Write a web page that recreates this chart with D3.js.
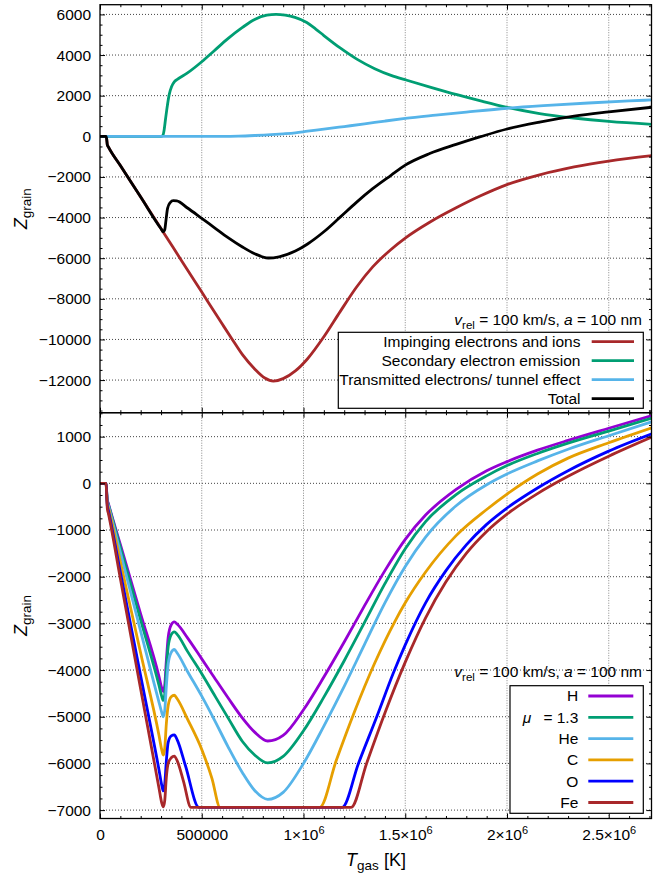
<!DOCTYPE html>
<html>
<head>
<meta charset="utf-8">
<script src="https://cdn.jsdelivr.net/npm/d3@7"></script>
<style>
  body { margin: 0; background: #fff; }
  svg { display: block; font-family: "Liberation Sans", Arial, Helvetica, sans-serif; }
</style>
</head>
<body>
<svg id="chart" width="664" height="873"></svg>
<script>
// ---- Data: [T_gas (K), Z_grain] ----
// Upper panel: charge contributions for v_rel = 100 km/s, a = 100 nm
const impinging = [[0,0],[30000,0],[33000,-150],[36000,-420],[41000,-520],[100000,-1440],[200000,-2990],[311000,-4720],[400000,-6110],[500000,-7670],[600000,-9230],[650000,-10000],[700000,-10750],[760000,-11450],[810000,-11900],[852000,-12050],[900000,-11930],[960000,-11550],[1020000,-10950],[1100000,-9870],[1180000,-8630],[1260000,-7430],[1340000,-6430],[1430000,-5570],[1500000,-5010],[1620000,-4230],[1750000,-3520],[1870000,-2930],[2000000,-2380],[2160000,-1900],[2330000,-1510],[2500000,-1220],[2712000,-950]];
const secondary = [[0,0],[300000,0],[308000,30],[315000,300],[322000,850],[328000,1300],[340000,2050],[352000,2450],[365000,2680],[380000,2800],[430000,3120],[500000,3670],[560000,4200],[630000,4820],[700000,5360],[760000,5750],[820000,5960],[865000,6000],[910000,5960],[958000,5850],[1016000,5600],[1060000,5280],[1100000,4960],[1180000,4350],[1262000,3800],[1350000,3330],[1430000,3000],[1508000,2760],[1630000,2400],[1754000,2050],[1880000,1720],[2000000,1430],[2160000,1120],[2327000,900],[2500000,730],[2712000,590]];
const transmitted = [[0,0],[600000,0],[680000,10],[760000,40],[840000,80],[900000,120],[960000,170],[1020000,250],[1100000,350],[1200000,480],[1300000,610],[1400000,750],[1500000,880],[1650000,1040],[1800000,1190],[2000000,1380],[2200000,1520],[2400000,1640],[2600000,1740],[2712000,1790]];
const total = [[0,0],[30000,0],[33000,-150],[36000,-420],[41000,-520],[100000,-1440],[200000,-2990],[300000,-4550],[311000,-4700],[318000,-4600],[324000,-4150],[332000,-3550],[345000,-3260],[360000,-3170],[377000,-3180],[430000,-3530],[500000,-4040],[560000,-4480],[631000,-5000],[700000,-5450],[760000,-5780],[827000,-5990],[880000,-5930],[960000,-5650],[1020000,-5300],[1100000,-4700],[1180000,-3980],[1260000,-3250],[1340000,-2580],[1430000,-1920],[1500000,-1420],[1620000,-850],[1750000,-400],[1870000,-20],[2000000,360],[2160000,700],[2330000,990],[2500000,1200],[2712000,1430]];

// Lower panel: total charge for different gas compositions
const gasH = [[0,0],[30000,0],[33000,-200],[36000,-350],[41000,-430],[100000,-1310],[200000,-2800],[290000,-4140],[303000,-4380],[311000,-4460],[318000,-4330],[326000,-3800],[335000,-3300],[350000,-3030],[365000,-2970],[380000,-3020],[430000,-3310],[500000,-3760],[560000,-4150],[630000,-4600],[700000,-5030],[760000,-5330],[824000,-5520],[900000,-5400],[1000000,-4850],[1100000,-4150],[1200000,-3400],[1300000,-2620],[1400000,-1870],[1500000,-1200],[1600000,-680],[1750000,-130],[1900000,270],[2000000,465],[2150000,710],[2300000,920],[2500000,1180],[2712000,1450]];
const gasMu13 = [[0,0],[30000,0],[33000,-200],[36000,-370],[41000,-450],[100000,-1370],[200000,-2930],[290000,-4330],[303000,-4560],[311000,-4650],[318000,-4520],[326000,-4000],[335000,-3500],[350000,-3240],[365000,-3180],[380000,-3240],[430000,-3600],[500000,-4080],[560000,-4520],[630000,-5030],[700000,-5530],[760000,-5820],[824000,-5990],[900000,-5850],[1000000,-5300],[1100000,-4580],[1200000,-3800],[1300000,-2980],[1400000,-2150],[1500000,-1400],[1600000,-820],[1750000,-240],[1900000,160],[2000000,380],[2150000,640],[2300000,860],[2500000,1120],[2712000,1400]];
const gasHe = [[0,0],[30000,0],[33000,-220],[36000,-400],[41000,-480],[100000,-1480],[200000,-3170],[290000,-4690],[303000,-4900],[311000,-5000],[318000,-4870],[326000,-4350],[335000,-3870],[350000,-3620],[365000,-3560],[380000,-3640],[430000,-4030],[500000,-4560],[560000,-5050],[630000,-5650],[700000,-6200],[760000,-6580],[824000,-6770],[900000,-6620],[1000000,-6000],[1100000,-5200],[1200000,-4350],[1300000,-3450],[1400000,-2560],[1500000,-1780],[1600000,-1150],[1750000,-480],[1900000,-30],[2000000,200],[2150000,480],[2300000,730],[2500000,1020],[2712000,1320]];
const gasC = [[0,0],[30000,0],[33000,-250],[36000,-440],[41000,-520],[100000,-1680],[200000,-3640],[290000,-5400],[303000,-5700],[311000,-5820],[318000,-5680],[326000,-5150],[335000,-4760],[350000,-4570],[365000,-4540],[380000,-4620],[430000,-5050],[500000,-5700],[550000,-6320],[590000,-6940],[1080000,-6940],[1160000,-5950],[1250000,-4900],[1350000,-3850],[1450000,-2950],[1500000,-2560],[1600000,-1900],[1750000,-1120],[1900000,-560],[2000000,-230],[2150000,200],[2300000,540],[2500000,870],[2712000,1190]];
const gasO = [[0,0],[30000,0],[33000,-260],[36000,-480],[41000,-580],[100000,-1900],[200000,-4130],[290000,-6140],[305000,-6500],[311000,-6590],[318000,-6450],[326000,-5950],[335000,-5550],[350000,-5410],[365000,-5390],[380000,-5500],[420000,-6050],[486000,-6940],[1190000,-6940],[1270000,-6000],[1360000,-5000],[1440000,-4080],[1500000,-3460],[1600000,-2560],[1700000,-1870],[1800000,-1320],[1900000,-880],[2000000,-530],[2150000,-100],[2300000,270],[2500000,690],[2712000,1060]];
const gasFe = [[0,0],[30000,0],[33000,-300],[36000,-540],[41000,-640],[100000,-2040],[200000,-4410],[290000,-6530],[303000,-6840],[311000,-6930],[318000,-6800],[326000,-6300],[335000,-6000],[350000,-5880],[365000,-5845],[380000,-5950],[410000,-6380],[447000,-6940],[1234000,-6940],[1310000,-6000],[1400000,-4920],[1500000,-3830],[1600000,-2880],[1700000,-2110],[1800000,-1500],[1900000,-1030],[2000000,-660],[2150000,-220],[2300000,150],[2500000,580],[2712000,990]];

// Axis ticks
const xMajor = [0, 500000, 1000000, 1500000, 2000000, 2500000];
const xMinor = [100000,200000,300000,400000,600000,700000,800000,900000,1100000,1200000,1300000,1400000,1600000,1700000,1800000,1900000,2100000,2200000,2300000,2400000,2600000,2700000];
const yMajorTop = [-12000, -10000, -8000, -6000, -4000, -2000, 0, 2000, 4000, 6000];
const yMajorBottom = [-7000, -6000, -5000, -4000, -3000, -2000, -1000, 0, 1000];

// Legends
const topLegend = ["Impinging electrons and ions", "Secondary electron emission", "Transmitted electrons/ tunnel effect", "Total"];
const bottomLegend = ["H", "\u03bc", "He", "C", "O", "Fe"];

// ---- Layout ----
const plotLeft = 100, plotRight = 651.5;
const topPanel = { top: 4.7, bottom: 412.7, domain: [-13606, 6478], minorStep: 500 };
const botPanel = { top: 412.7, bottom: 818.5, domain: [-7180, 1513], minorStep: 250 };
const lineWidth = 2.8;

const svg = d3.select("#chart");
const x = d3.scaleLinear().domain([0, 2710000]).range([plotLeft, plotRight]);
const fmtY = d3.format("d");

function xLabel(sel, v) {
  sel.text(null);
  if (v === 0 || v === 500000) { sel.text(String(v)); return; }
  const m = v / 1e6;
  sel.append("tspan").text(m + "\u00d710");
  sel.append("tspan").attr("dy", "-0.5em").attr("font-size", "11px").text("6");
}

function panel(cfg, yMajor, series, colors, showXLabels, idx) {
  const y = d3.scaleLinear().domain(cfg.domain).range([cfg.bottom, cfg.top]);
  const g = svg.append("g");
  const w = plotRight - plotLeft, h = cfg.bottom - cfg.top;

  // grid
  g.append("g").selectAll("line").data(yMajor).join("line")
    .attr("x1", plotLeft).attr("x2", plotRight)
    .attr("y1", d => y(d)).attr("y2", d => y(d))
    .attr("stroke", "#444").attr("stroke-width", 1).attr("stroke-dasharray", "1,2");
  g.append("g").selectAll("line").data(xMajor.filter(d => d > 0)).join("line")
    .attr("y1", cfg.top).attr("y2", cfg.bottom)
    .attr("x1", d => x(d)).attr("x2", d => x(d))
    .attr("stroke", "#888").attr("stroke-width", 1).attr("stroke-dasharray", "1,1.5");

  // curves
  const clipId = "clip" + idx;
  svg.append("clipPath").attr("id", clipId).append("rect")
    .attr("x", plotLeft).attr("y", cfg.top).attr("width", w).attr("height", h);
  const line = d3.line().x(d => x(d[0])).y(d => y(d[1])).curve(d3.curveMonotoneX);
  const cg = g.append("g").attr("clip-path", `url(#${clipId})`);
  series.forEach((s, i) => {
    cg.append("path").datum(s).attr("d", line).attr("fill", "none")
      .attr("stroke", colors[i]).attr("stroke-width", lineWidth)
      .attr("stroke-linejoin", "round").attr("stroke-linecap", "butt");
  });

  // axes (ticks pointing inward)
  const yMinor = d3.range(Math.ceil(cfg.domain[0] / cfg.minorStep) * cfg.minorStep, cfg.domain[1], cfg.minorStep)
    .filter(v => !yMajor.includes(v));
  const styleAxis = a => { a.select(".domain").remove(); a.selectAll("line").attr("stroke", "#000"); };

  g.append("g").attr("transform", `translate(${plotLeft},0)`)
    .call(d3.axisLeft(y).tickValues(yMajor).tickSizeInner(-5).tickSizeOuter(0).tickPadding(9).tickFormat(fmtY))
    .call(styleAxis)
    .call(a => a.selectAll("text").attr("font-size", "15.5px").attr("fill", "#000")
      .attr("font-family", '"Liberation Sans", Arial, sans-serif'));
  g.append("g").attr("transform", `translate(${plotLeft},0)`)
    .call(d3.axisLeft(y).tickValues(yMinor).tickSizeInner(-2.5).tickSizeOuter(0).tickFormat(""))
    .call(styleAxis);
  g.append("g").attr("transform", `translate(${plotRight},0)`)
    .call(d3.axisRight(y).tickValues(yMajor).tickSizeInner(-5).tickSizeOuter(0).tickFormat(""))
    .call(styleAxis);
  g.append("g").attr("transform", `translate(${plotRight},0)`)
    .call(d3.axisRight(y).tickValues(yMinor).tickSizeInner(-2.5).tickSizeOuter(0).tickFormat(""))
    .call(styleAxis);
  g.append("g").attr("transform", `translate(0,${cfg.top})`)
    .call(d3.axisTop(x).tickValues(xMajor).tickSizeInner(-5).tickSizeOuter(0).tickFormat(""))
    .call(styleAxis);
  g.append("g").attr("transform", `translate(0,${cfg.top})`)
    .call(d3.axisTop(x).tickValues(xMinor).tickSizeInner(-2.5).tickSizeOuter(0).tickFormat(""))
    .call(styleAxis);
  const bx = g.append("g").attr("transform", `translate(0,${cfg.bottom})`)
    .call(d3.axisBottom(x).tickValues(xMajor).tickSizeInner(-5).tickSizeOuter(0).tickPadding(10)
      .tickFormat(showXLabels ? d3.format("d") : ""))
    .call(styleAxis);
  if (showXLabels) {
    bx.selectAll("text").attr("font-size", "15.5px").attr("fill", "#000")
      .attr("font-family", '"Liberation Sans", Arial, sans-serif')
      .each(function(d) { xLabel(d3.select(this), d); });
  }
  g.append("g").attr("transform", `translate(0,${cfg.bottom})`)
    .call(d3.axisBottom(x).tickValues(xMinor).tickSizeInner(-2.5).tickSizeOuter(0).tickFormat(""))
    .call(styleAxis);

  // frame
  g.append("rect").attr("x", plotLeft).attr("y", cfg.top).attr("width", w).attr("height", h)
    .attr("fill", "none").attr("stroke", "#000").attr("stroke-width", 1.3);

  // y axis title
  const cy = (cfg.top + cfg.bottom) / 2;
  const yt = g.append("text").attr("transform", `translate(27,${cy}) rotate(-90)`)
    .attr("text-anchor", "middle").attr("font-size", "18px").attr("fill", "#000");
  yt.append("tspan").attr("font-style", "italic").text("Z");
  yt.append("tspan").attr("dy", "0.3em").attr("font-size", "13.5px").text("grain");

  return { g, y };
}

function note(g, yBase) {
  const t = g.append("text").attr("x", 642).attr("y", yBase).attr("text-anchor", "end")
    .attr("font-size", "15.5px").attr("fill", "#000");
  t.append("tspan").attr("font-style", "italic").text("v");
  t.append("tspan").attr("dy", "4").attr("font-size", "11.5px").text("rel");
  t.append("tspan").attr("dy", "-4").text(" = 100 km/s, ");
  t.append("tspan").attr("font-style", "italic").text("a");
  t.append("tspan").text(" = 100 nm");
}

// ---- Upper panel ----
const topColors = ["#a8282a", "#009e73", "#56b4e9", "#000000"];
const P1 = panel(topPanel, yMajorTop, [impinging, secondary, transmitted, total], topColors, false, 1);
note(P1.g, 325);
{
  const lg = P1.g.append("g");
  lg.append("rect").attr("x", 338.3).attr("y", 332.3).attr("width", 305).attr("height", 76)
    .attr("fill", "#fff").attr("stroke", "#000").attr("stroke-width", 1.2);
  topLegend.forEach((lab, i) => {
    const yy = 341.7 + i * 19;
    lg.append("text").attr("x", 580.5).attr("y", yy).attr("dy", "0.35em").attr("text-anchor", "end")
      .attr("font-size", "15.5px").attr("fill", "#000").text(lab);
    lg.append("line").attr("x1", 591.7).attr("x2", 634).attr("y1", yy).attr("y2", yy)
      .attr("stroke", topColors[i]).attr("stroke-width", lineWidth);
  });
}

// ---- Lower panel ----
const botColors = ["#9400d3", "#009e73", "#56b4e9", "#e69f00", "#0000ff", "#a8282a"];
const P2 = panel(botPanel, yMajorBottom, [gasH, gasMu13, gasHe, gasC, gasO, gasFe], botColors, true, 2);
note(P2.g, 677);
{
  const lg = P2.g.append("g");
  lg.append("rect").attr("x", 510).attr("y", 685.7).attr("width", 133.3).attr("height", 127.6)
    .attr("fill", "#fff").attr("stroke", "#000").attr("stroke-width", 1.2);
  bottomLegend.forEach((lab, i) => {
    const yy = 696 + i * 21.3;
    const t = lg.append("text").attr("x", 578.3).attr("y", yy).attr("dy", "0.35em").attr("text-anchor", "end")
      .attr("font-size", "15.5px").attr("fill", "#000");
    if (lab === "\u03bc") {
      t.append("tspan").attr("font-style", "italic").text("\u03bc");
      t.append("tspan").text("\u2002 = 1.3");
    } else {
      t.text(lab);
    }
    lg.append("line").attr("x1", 588.3).attr("x2", 633.3).attr("y1", yy).attr("y2", yy)
      .attr("stroke", botColors[i]).attr("stroke-width", lineWidth);
  });
}

// x axis title
{
  const t = svg.append("text").attr("x", 376).attr("y", 866).attr("text-anchor", "middle")
    .attr("font-size", "18px").attr("fill", "#000");
  t.append("tspan").attr("font-style", "italic").text("T");
  t.append("tspan").attr("dy", "4").attr("font-size", "13.5px").text("gas");
  t.append("tspan").attr("dy", "-4").text(" [K]");
}
</script>
</body>
</html>
